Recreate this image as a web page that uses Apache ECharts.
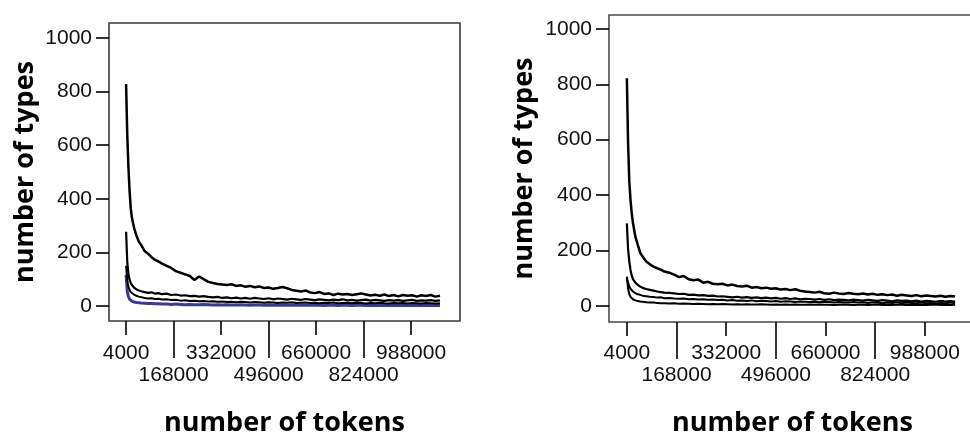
<!DOCTYPE html>
<html>
<head>
<meta charset="utf-8">
<script src="https://cdn.jsdelivr.net/npm/echarts@6/dist/echarts.min.js"></script>
<style>
html,body{margin:0;padding:0;background:#fff;}
#chart{width:970px;height:435px;}
</style>
</head>
<body>
<div id="chart"></div>
<script>
// x values (number of tokens)
const tokens = [4000, 8000, 12000, 16000, 20000, 24000, 32000, 40000, 48000, 56000, 68000, 80000, 92000, 104000, 116000, 128000,
  144000, 160000, 176000, 192000, 208000, 224000, 240000, 256000, 272000, 288000,
  304000, 320000, 336000, 352000, 368000, 384000, 400000, 416000, 432000, 448000,
  464000, 480000, 496000, 512000, 528000, 544000, 560000, 576000, 592000, 608000,
  624000, 640000, 656000, 672000, 688000, 704000, 720000, 736000, 752000, 768000,
  784000, 800000, 816000, 832000, 848000, 864000, 880000, 896000, 912000, 928000,
  944000, 960000, 976000, 992000, 1008000, 1024000, 1040000, 1056000, 1072000, 1088000];

// left panel series (number of types)
const leftA = [828, 640, 520, 430, 365, 330, 290, 262, 240, 228, 205, 195, 182, 172, 166, 158,
  150, 142, 130, 124, 118, 112, 97, 110, 100, 90,
  86, 82, 80, 78, 81, 75, 77, 72, 75, 70,
  73, 67, 69, 64, 67, 71, 66, 60, 57, 54,
  58, 50, 48, 52, 45, 47, 41, 46, 43, 45,
  41, 44, 47, 43, 39, 42, 38, 43, 37, 41,
  36, 41, 38, 40, 35, 40, 37, 41, 35, 38];
const leftB = [277, 165, 120, 98, 86, 78, 68, 62, 58, 55, 52, 49, 51, 46, 48, 44,
  46, 41, 43, 39, 40, 37, 38, 35, 37, 34,
  32, 34, 30, 32, 29, 31, 28, 30, 27, 30,
  28, 26, 29, 25, 28, 26, 24, 27, 25, 23,
  26, 24, 22, 25, 23, 21, 24, 22, 25, 21,
  23, 20, 22, 24, 20, 23, 21, 19, 22, 20,
  22, 19, 21, 23, 19, 21, 20, 22, 19, 21];
const leftC = [150, 95, 72, 60, 52, 47, 42, 38, 35, 33, 30, 28, 29, 26, 27, 24,
  25, 22, 23, 20, 21, 19, 20, 18, 19, 17,
  18, 16, 17, 15, 16, 14, 16, 15, 13, 15,
  14, 12, 14, 13, 11, 13, 12, 14, 11, 12,
  13, 11, 12, 10, 12, 11, 13, 10, 11, 12,
  10, 12, 11, 9, 11, 10, 12, 10, 9, 11,
  10, 11, 9, 11, 10, 9, 11, 10, 9, 10];
const leftD = [116, 55, 35, 26, 21, 18, 15, 13, 12, 11, 10, 9, 9, 8, 8, 7,
  7, 6, 7, 6, 5, 6, 5, 5, 6, 5,
  4, 5, 4, 5, 4, 4, 5, 4, 3, 4,
  4, 3, 4, 3, 4, 3, 3, 4, 3, 3,
  3, 4, 3, 3, 2, 3, 3, 2, 3, 3,
  2, 3, 3, 2, 3, 2, 3, 2, 2, 3,
  2, 3, 2, 2, 3, 2, 2, 3, 2, 2];

// right panel series
const rightA = [822, 590, 450, 383, 335, 300, 250, 220, 192, 178, 160, 150, 142, 136, 131, 124,
  120, 113, 104, 108, 96, 93, 95, 84, 87, 80,
  78, 80, 74, 77, 72, 70, 73, 66, 68, 64,
  66, 62, 64, 59, 61, 57, 60, 55, 52, 50,
  48, 51, 46, 44, 48, 45, 43, 47, 44, 42,
  45, 41, 44, 40, 42, 39, 41, 37, 40, 38,
  36, 39, 35, 38, 36, 34, 37, 33, 36, 34];
const rightB = [298, 205, 160, 130, 110, 97, 84, 76, 70, 65, 61, 58, 55, 52, 50, 48,
  47, 45, 43, 44, 40, 41, 38, 39, 36, 37,
  34, 35, 33, 31, 33, 30, 32, 29, 31, 28,
  30, 27, 29, 26, 28, 25, 27, 24, 26, 25,
  23, 25, 22, 24, 21, 23, 22, 20, 23, 21,
  19, 22, 20, 18, 21, 19, 17, 20, 18, 19,
  17, 19, 16, 18, 17, 15, 18, 16, 17, 16];
const rightC = [106, 62, 42, 33, 27, 24, 20, 18, 16, 15, 13, 12, 12, 11, 10, 10,
  9, 10, 8, 9, 8, 7, 8, 7, 6, 7,
  6, 7, 6, 5, 6, 5, 6, 5, 5, 6,
  5, 4, 5, 4, 5, 4, 5, 4, 4, 5,
  4, 5, 4, 4, 3, 4, 5, 4, 3, 4,
  4, 3, 4, 5, 3, 4, 3, 4, 4, 3,
  4, 3, 4, 3, 4, 5, 3, 4, 3, 4];
const rightD = [100, 84, 70, 62, 56, 52, 46, 42, 40, 37, 35, 33, 32, 30, 31, 28,
  29, 27, 26, 27, 24, 25, 23, 24, 22, 23,
  21, 22, 20, 21, 19, 20, 18, 20, 17, 19,
  18, 16, 18, 15, 17, 16, 14, 16, 15, 14,
  15, 13, 15, 14, 12, 14, 13, 12, 14, 12,
  13, 11, 13, 12, 10, 12, 11, 13, 10, 12,
  11, 10, 12, 10, 11, 9, 11, 10, 12, 10];

// tick labels
const xTicksRow1 = [4000, 332000, 660000, 988000];
const xTicksRow2 = [168000, 496000, 824000];
const yTicks = [0, 200, 400, 600, 800, 1000];

const xTitle = 'number of tokens';
const yTitle = 'number of types';

const tickFont = 'Liberation Sans, Arial, sans-serif';
const titleFont = 'Open Sans, sans-serif';

function pairs(vals) { return tokens.map((t, i) => [t, vals[i]]); }
function plain(v) { return String(v); }

function xAxes(gridIndex, m1, m2, gap) {
  const base = {
    type: 'value', gridIndex: gridIndex, position: 'bottom',
    min: -55000, max: 1157000,
    splitLine: { show: false },
    axisLine: { show: false, onZero: false }
  };
  return [
    Object.assign({}, base, {
      axisTick: { show: true, customValues: xTicksRow1, length: 14, lineStyle: { color: '#000', width: 1.6 } },
      axisLabel: { customValues: xTicksRow1, formatter: plain, fontSize: 21, lineHeight: 22, margin: m1, color: '#111', fontFamily: tickFont },
      name: xTitle, nameLocation: 'middle', nameGap: gap,
      nameTextStyle: { fontSize: 27, fontWeight: 'bold', fontFamily: titleFont, color: '#000', lineHeight: 30 }
    }),
    Object.assign({}, base, {
      axisTick: { show: true, customValues: xTicksRow2, length: 37, lineStyle: { color: '#000', width: 1.6 } },
      axisLabel: { customValues: xTicksRow2, formatter: plain, fontSize: 21, lineHeight: 22, margin: m2, color: '#111', fontFamily: tickFont }
    })
  ];
}

function yAxis(gridIndex, mn, mx, gap) {
  return {
    type: 'value', gridIndex: gridIndex, min: mn, max: mx, position: 'left',
    splitLine: { show: false },
    axisLine: { show: false, onZero: false },
    axisTick: { show: true, customValues: yTicks, length: 13, lineStyle: { color: '#000', width: 1.6 } },
    axisLabel: { customValues: yTicks, formatter: plain, fontSize: 21, margin: 17, color: '#111', fontFamily: tickFont },
    name: yTitle, nameLocation: 'middle', nameGap: gap,
    nameTextStyle: { fontSize: 27, fontWeight: 'bold', fontFamily: titleFont, color: '#000', lineHeight: 30 }
  };
}

function line(vals, xi, yi, color, w) {
  return {
    type: 'line', xAxisIndex: xi, yAxisIndex: yi, data: pairs(vals),
    symbol: 'none', lineStyle: { color: color, width: w }, itemStyle: { color: color },
    silent: true
  };
}

const chart = echarts.init(document.getElementById('chart'), null, { renderer: 'canvas' });
chart.setOption({
  animation: false,
  backgroundColor: '#fff',
  grid: [
    { left: 109, top: 23, right: 510, bottom: 114, containLabel: false, outerBoundsMode: 'none',
      show: true, borderColor: '#3a3a3a', borderWidth: 1.6, backgroundColor: '#fff' },
    { left: 609, top: 15, right: -6, bottom: 113, containLabel: false, outerBoundsMode: 'none',
      show: true, borderColor: '#4a4a4a', borderWidth: 1.6, backgroundColor: '#fff' }
  ],
  xAxis: xAxes(0, 21, 43, 87).concat(xAxes(1, 20, 42, 86)),
  yAxis: [yAxis(0, -56, 1056, 69), yAxis(1, -58, 1050, 70)],
  series: [
    line(leftD, 0, 0, '#3b3b95', 3),
    line(leftC, 0, 0, '#000', 2),
    line(leftB, 0, 0, '#000', 2.2),
    line(leftA, 0, 0, '#000', 2.5),
    line(rightC, 2, 1, '#000', 2),
    line(rightD, 2, 1, '#000', 2),
    line(rightB, 2, 1, '#000', 2.2),
    line(rightA, 2, 1, '#000', 2.5)
  ]
});
</script>
</body>
</html>
